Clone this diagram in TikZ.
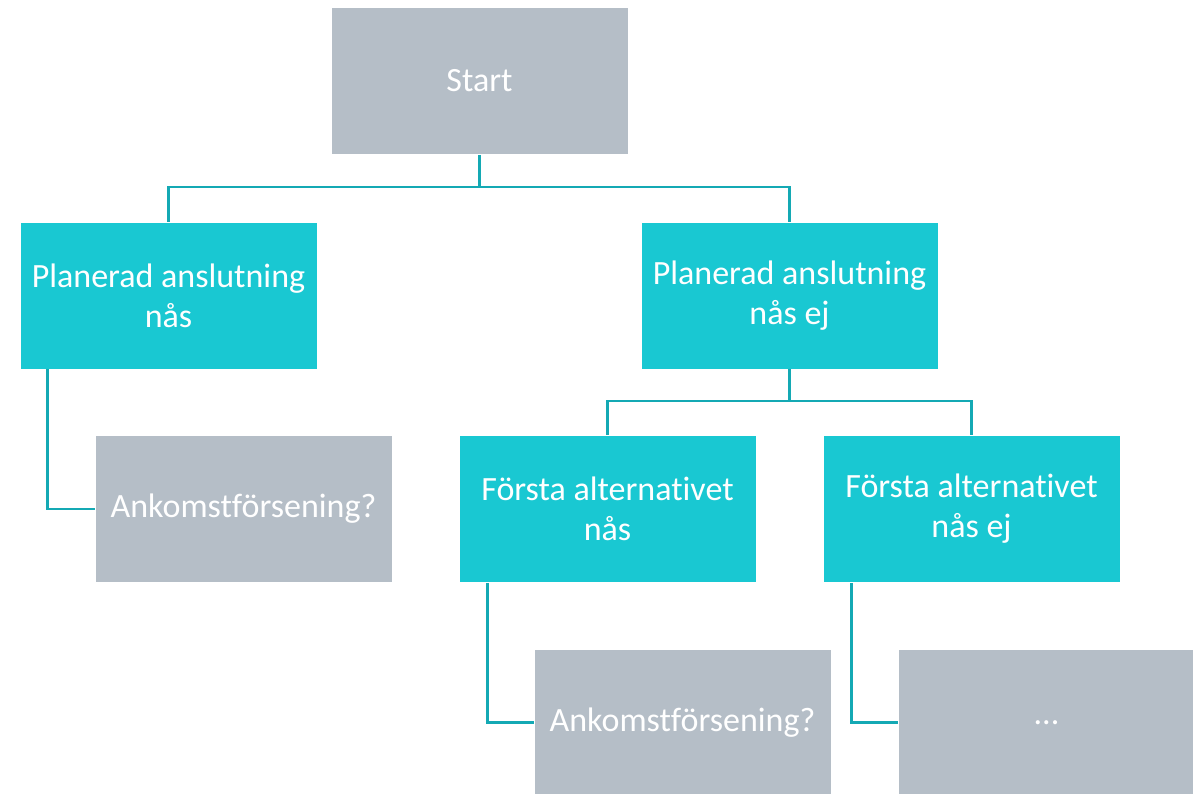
\documentclass[tikz,border=0pt]{standalone}
\usepackage{fontspec}
\setmainfont{Carlito}[Ligatures={NoCommon}]
\usetikzlibrary{positioning,calc}
\definecolor{boxgray}{RGB}{181,190,199}
\definecolor{boxteal}{RGB}{25,200,210}
\definecolor{lineteal}{RGB}{20,169,180}

\begin{document}
\begin{tikzpicture}[
  x=1pt, y=-1pt,
  font=\fontsize{34}{40}\selectfont,
  box/.style={draw=white, line width=0.8pt, align=center, text=white,
              minimum width=297pt, minimum height=147pt, inner sep=4pt},
  grey/.style={box, fill=boxgray},
  teal/.style={box, fill=boxteal},
  link/.style={draw=lineteal, line width=2.6pt},
]
\useasboundingbox (0,0) rectangle (1193,794);
\clip (0,0) rectangle (1193,794);

% ---- boxes ----
\node[grey] (start) at (479.5,81)   {Start};
\node[teal] (met)   at (168.5,295.5) {Planerad anslutning\\nås};
\node[teal] (miss)  at (789.5,295.5) {Planerad anslutning\\nås ej};
\node[grey] (delayA) at (243.5,509) {Ankomstförsening?};
\node[teal] (altmet)  at (607.5,509) {Första alternativet\\nås};
\node[teal] (altmiss) at (971.5,509) {Första alternativet\\nås ej};
\node[grey] (delayB) at (682.5,722.5) {Ankomstförsening?};
\node[grey] (more)   at (1046.5,722.5) {...};

% ---- tree connectors ----
\coordinate (split1) at (479.5,187);
\coordinate (split2) at (789.5,401);
\draw[link] (start.south) -- (split1) -| (met.north);
\draw[link] (split1) -| (miss.north);
\draw[link] (miss.south) -- (split2) -| (altmet.north);
\draw[link] (split2) -| (altmiss.north);

% ---- elbow connectors ----
\draw[link] ([xshift=28pt]met.south west) |- (delayA.west);
\draw[link] ([xshift=29pt]altmet.south west) |- (delayB.west);
\draw[link] ([xshift=29pt]altmiss.south west) |- (more.west);

\end{tikzpicture}
\end{document}
